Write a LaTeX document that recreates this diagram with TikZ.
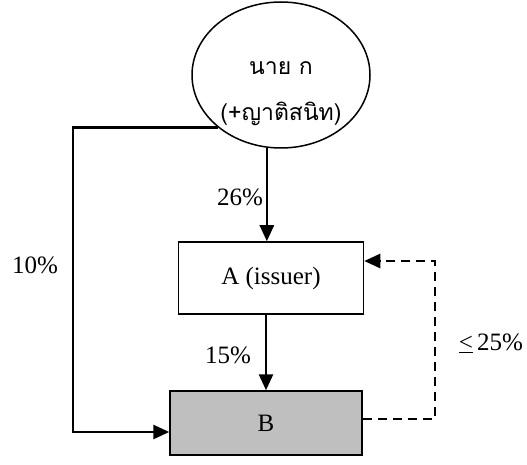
\documentclass[tikz,border=0pt]{standalone}
\usepackage{fontspec}
\setmainfont{Liberation Serif}
\newfontfamily\thaifont[Script=Thai]{Loma}
\usetikzlibrary{arrows.meta,shapes.geometric,calc}
\begin{document}
\begin{tikzpicture}[x=1pt,y=1pt,
  every node/.style={font=\fontsize{25}{28}\selectfont},
  boxst/.style={draw,line width=1.5pt,minimum width=185pt,minimum height=72pt,inner sep=0pt},
  arr/.style={line width=2.6pt,-{Triangle[length=16pt,width=14pt]}},
  lbl/.style={inner sep=0pt}]
\useasboundingbox (0,0) rectangle (527,464);
\node[draw,ellipse,line width=1.5pt,minimum width=178pt,minimum height=146pt,inner sep=0pt,align=center,
  font=\thaifont\fontsize{23}{46}\selectfont] (e) at (281,389) {\rule{0pt}{50pt}นาย ก\\(+ญาติสนิท)};
\node[boxst] (A) at (271,186) {A (issuer)};
\node[boxst,fill=gray!50,minimum width=192pt,minimum height=64pt] (B) at (266,41) {B};
\coordinate (lx) at (73,0);
\coordinate (rx) at (435,0);
\coordinate (bs) at ($(B.east)+(0,4)$);
\coordinate (ae) at ($(A.east)+(0,17)$);
\coordinate (bw) at ($(B.west)+(0,-9)$);
\draw[arr] (e.259) -- (e.259 |- A.north);
\draw[arr] (A.south -| B.north) -- (B.north);
\draw[arr] (e.220) -- (e.220 -| lx) |- (bw);
\draw[arr,dash pattern=on 9pt off 6pt] (bs) -- (bs -| rx) |- (ae);
\node[lbl] (l26) at (240,267) {26\%};
\node[lbl] (l15) at (228,109) {15\%};
\node[lbl] (l10) at (35,199) {10\%};
\node[lbl] (l25) at (491,121) {\underline{<}\,25\%};
\end{tikzpicture}
\end{document}
